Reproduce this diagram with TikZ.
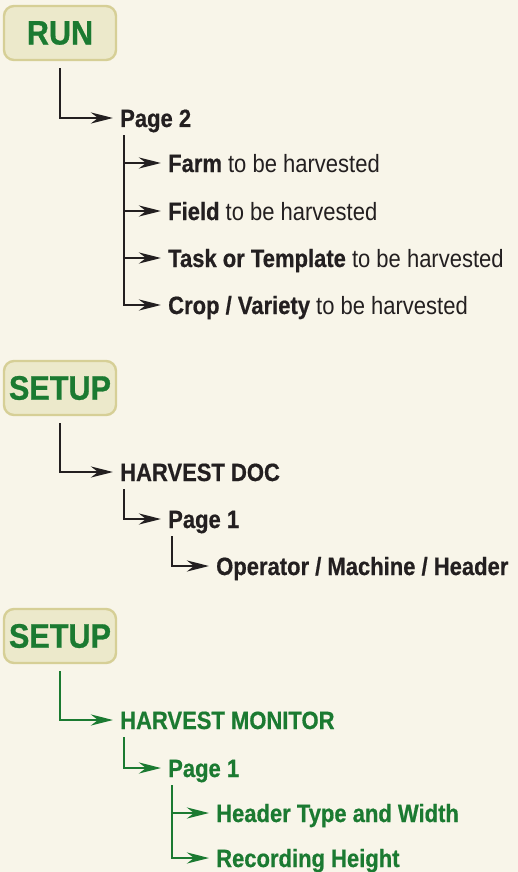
\documentclass[tikz,border=0pt]{standalone}
\usepackage{fontspec}
\setmainfont{Liberation Sans}[FakeStretch=0.88,BoldFeatures={FakeBold=0.6}]
\newfontfamily\boxfont{Liberation Sans}[FakeStretch=0.9,FakeBold=0.8]
\usetikzlibrary{positioning,arrows.meta}

\definecolor{cream}{RGB}{248,245,233}
\definecolor{boxfill}{RGB}{236,233,203}
\definecolor{boxline}{RGB}{214,207,150}
\definecolor{leafgreen}{RGB}{27,122,49}
\definecolor{inkblack}{RGB}{35,31,32}

\tikzset{
  modebox/.style={draw=boxline, fill=boxfill, line width=2.4pt, rounded corners=10pt,
    minimum width=112pt, minimum height=54pt, inner sep=0pt, text=leafgreen,
    font=\boxfont\fontsize{34}{34}\selectfont\bfseries},
  item/.style={anchor=west, inner sep=0pt, text height=18pt, text depth=0pt,
    font=\fontsize{25}{27}\selectfont},
  conn/.style={line width=2.7pt, -{Stealth[length=22pt,width=11pt,inset=7pt]}, shorten >=7pt},
}

\begin{document}
\begin{tikzpicture}[x=1pt,y=1pt,yscale=-1,xscale=1, inkblack]
\useasboundingbox[fill=cream] (0,0) rectangle (518,872);

% RUN branch
\node [modebox] (run) at (60,33) {RUN};
\node [item] (page2) at (120,118) {\bfseries Page 2};
\node [item] (farm) at (168,163) {\textbf{Farm} to be harvested};
\node [item] (field) at (168,211) {\textbf{Field} to be harvested};
\node [item] (task) at (168,258) {\textbf{Task or Template} to be harvested};
\node [item] (crop) at (168,305) {\textbf{Crop / Variety} to be harvested};

\draw [conn] ([yshift=7pt]run.south) |- (page2.west);
\coordinate (p2t) at ([xshift=4pt,yshift=8pt]page2.south west);
\draw [conn] (p2t) |- (crop.west);
\draw [conn] (p2t |- farm.west) -- (farm.west);
\draw [conn] (p2t |- field.west) -- (field.west);
\draw [conn] (p2t |- task.west) -- (task.west);

% SETUP - harvest doc
\node [modebox] (setupdoc) at (60,388) {SETUP};
\node [item] (hdoc) at (120,472) {\bfseries HARVEST DOC};
\node [item] (docpage) at (168,519) {\bfseries Page 1};
\node [item] (operator) at (216,566) {\bfseries Operator / Machine / Header};

\draw [conn] ([yshift=7pt]setupdoc.south) |- (hdoc.west);
\draw [conn] ([xshift=4pt,yshift=8pt]hdoc.south west) |- (docpage.west);
\draw [conn] ([xshift=4pt,yshift=8pt]docpage.south west) |- (operator.west);

% SETUP - harvest monitor
\begin{scope}[leafgreen]
\node [modebox] (setupmon) at (60,636) {SETUP};
\node [item] (hmon) at (120,720) {\bfseries HARVEST MONITOR};
\node [item] (monpage) at (168,768) {\bfseries Page 1};
\node [item] (headertype) at (216,813) {\bfseries Header Type and Width};
\node [item] (recheight) at (216,858) {\bfseries Recording Height};

\draw [conn] ([yshift=7pt]setupmon.south) |- (hmon.west);
\draw [conn] ([xshift=4pt,yshift=8pt]hmon.south west) |- (monpage.west);
\coordinate (mpt) at ([xshift=4pt,yshift=8pt]monpage.south west);
\draw [conn] (mpt) |- (recheight.west);
\draw [conn] (mpt |- headertype.west) -- (headertype.west);
\end{scope}

\end{tikzpicture}
\end{document}
